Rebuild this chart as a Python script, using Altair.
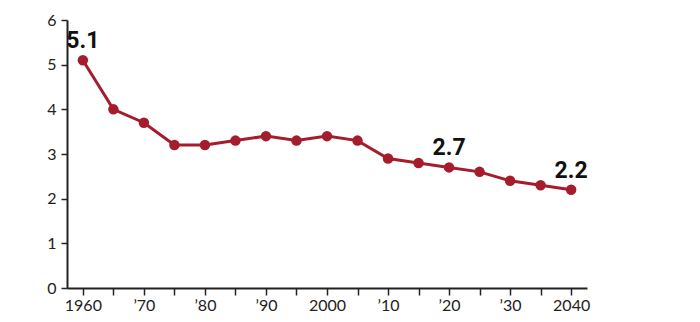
import altair as alt
import pandas as pd

years = [1960, 1965, 1970, 1975, 1980, 1985, 1990, 1995, 2000, 2005,
         2010, 2015, 2020, 2025, 2030, 2035, 2040]
values = [5.1, 4.0, 3.7, 3.2, 3.2, 3.3, 3.4, 3.3, 3.4, 3.3,
          2.9, 2.8, 2.7, 2.6, 2.4, 2.3, 2.2]
label_years = [1960, 2020, 2040]
label_texts = ["5.1", "2.7", "2.2"]
tick_years = [1960, 1965, 1970, 1975, 1980, 1985, 1990, 1995, 2000, 2005,
              2010, 2015, 2020, 2025, 2030, 2035, 2040]
tick_labels = ["1960", "", "\u201970", "", "\u201980", "", "\u201990", "", "2000", "",
               "\u201910", "", "\u201920", "", "\u201930", "", "2040"]
y_ticks = [0, 1, 2, 3, 4, 5, 6]

df = pd.DataFrame({"year": years, "value": values})
lab = pd.DataFrame({"year": label_years,
                    "value": [values[years.index(y)] for y in label_years],
                    "text": label_texts})

mapping = "{" + ",".join(f'"{y}":"{t}"' for y, t in zip(tick_years, tick_labels)) + "}"
label_expr = f"{mapping}[toString(datum.value)]"

red = "#a51d2d"
tick_font = "Lato"
label_font = "Roboto"

x = alt.X("year:Q",
          scale=alt.Scale(domain=[1957.4, 2042.6], nice=False, zero=False),
          axis=alt.Axis(values=tick_years, labelExpr=label_expr, title=None,
                        grid=False, domainColor="#222", domainWidth=2,
                        tickColor="#222", tickWidth=1.5, tickSize=7,
                        labelFont=tick_font, labelFontSize=16, labelColor="#222",
                        labelPadding=2, labelFlush=False))
y = alt.Y("value:Q",
          scale=alt.Scale(domain=[0, 6], nice=False),
          axis=alt.Axis(values=y_ticks, title=None, grid=False,
                        domainColor="#222", domainWidth=2,
                        tickColor="#222", tickWidth=1.5, tickSize=6,
                        labelFont=tick_font, labelFontSize=16, labelColor="#222",
                        labelPadding=5))

line = alt.Chart(df).mark_line(color=red, strokeWidth=3).encode(x=x, y=y)
pts = alt.Chart(df).mark_circle(color=red, opacity=1, size=110).encode(x=x, y=y)
txt = alt.Chart(lab).mark_text(font=label_font, fontWeight="bold",
                               fontSize=23, color="#111", baseline="alphabetic",
                               dy=-12).encode(x=x, y=y, text="text:N")

chart = (line + pts + txt).properties(
    width=520, height=268,
    autosize=alt.AutoSizeParams(type="none"),
    padding={"left": 59, "top": 12, "right": 105, "bottom": 26},
).configure_view(stroke=None)

chart.save("out.html", embed_options={"renderer": "svg", "actions": False})
